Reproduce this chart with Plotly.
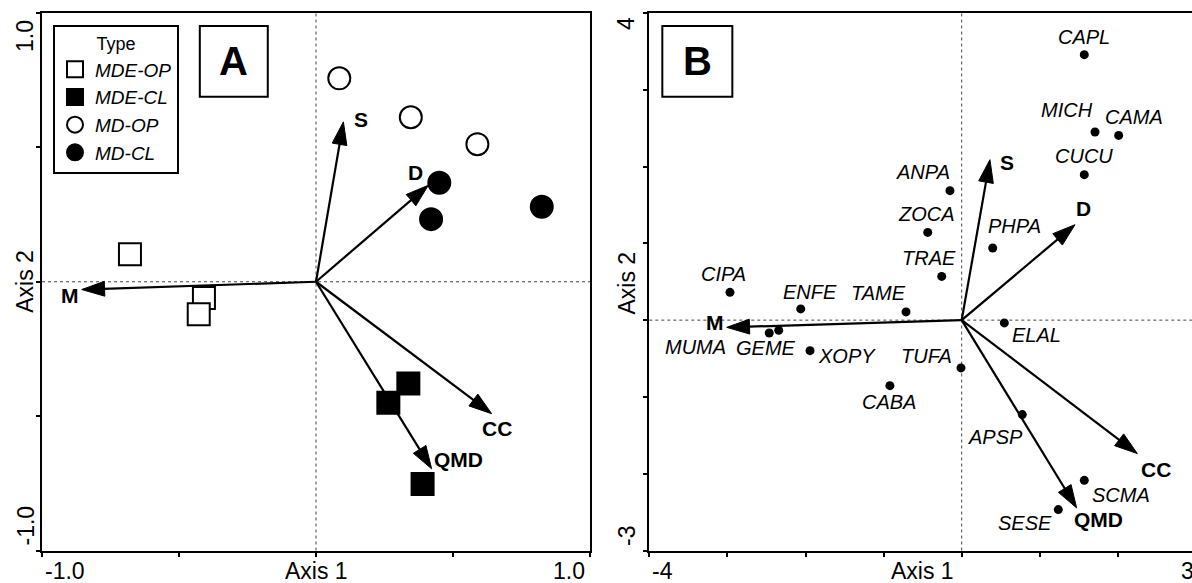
import plotly.graph_objects as go

# ---------------- Panel A data ----------------
mde_op_x = [-0.679, -0.409, -0.428]
mde_op_y = [0.102, -0.060, -0.121]
mde_cl_x = [0.337, 0.264, 0.389]
mde_cl_y = [-0.379, -0.450, -0.753]
md_op_x = [0.085, 0.346, 0.589]
md_op_y = [0.757, 0.612, 0.512]
md_cl_x = [0.450, 0.420, 0.824]
md_cl_y = [0.368, 0.233, 0.279]

vec_names = ["S", "D", "M", "CC", "QMD"]
vecA_x = [0.100, 0.410, -0.855, 0.641, 0.422]
vecA_y = [0.595, 0.359, -0.029, -0.491, -0.696]

# ---------------- Panel B data ----------------
species = ["CAPL", "MICH", "CAMA", "CUCU", "ANPA", "ZOCA", "PHPA", "TRAE", "TAME", "ELAL",
           "TUFA", "CABA", "APSP", "SCMA", "SESE", "CIPA", "ENFE", "MUMA", "GEME", "XOPY"]
spB_x = [1.570, 1.707, 2.010, 1.570, -0.150, -0.435, 0.397, -0.256, -0.713, 0.546,
         -0.009, -0.919, 0.776, 1.570, 1.237, -2.967, -2.061, -2.464, -2.343, -1.942]
spB_y = [3.457, 2.450, 2.406, 1.895, 1.686, 1.143, 0.940, 0.570, 0.107, -0.036,
         -0.622, -0.853, -1.230, -2.086, -2.467, 0.362, 0.146, -0.167, -0.133, -0.397]
vecB_x = [0.362, 1.451, -3.009, 2.249, 1.472]
vecB_y = [2.090, 1.243, -0.094, -1.738, -2.446]

A_ticks = [-1, -0.5, 0, 0.5, 1]
B_xticks = [-4, -3, -2, -1, 0, 1, 2, 3]
B_yticks = [-3, -2, -1, 0, 1, 2, 3, 4]

# ---------------- label placement (pixel offsets, layout only) ----------------
vecA_lab_off = {"S": (18, -2), "D": (-13, -13), "M": (-12, 6), "CC": (5, 15), "QMD": (27, -9)}
vecB_lab_off = {"S": (17, 3), "D": (8, -16), "M": (-12, -5), "CC": (19, 16), "QMD": (22, 12)}
spB_lab_off = {"CAPL": (0, -18), "MICH": (-28, -22), "CAMA": (15, -18), "CUCU": (0, -19),
               "ANPA": (-27, -19), "ZOCA": (-1, -18), "PHPA": (22, -22), "TRAE": (-13, -18),
               "TAME": (-28, -19), "ELAL": (32, 12), "TUFA": (-34, -12), "CABA": (-1, 16),
               "APSP": (-27, 22), "SCMA": (37, 15), "SESE": (-33, 13), "CIPA": (-6, -18),
               "ENFE": (9, -17), "MUMA": (-74, 14), "GEME": (-13, 18), "XOPY": (37, 5)}

W, H = 1192, 583
FONT = "Arial, Liberation Sans, sans-serif"


def xp(px):
    return px / W


def yp(py):
    return (H - py) / H


fig = go.Figure()

# Panel A points
marker_line = dict(color="black", width=2)
fig.add_trace(go.Scatter(x=mde_op_x, y=mde_op_y, mode="markers", name="MDE-OP",
                         marker=dict(symbol="square", size=22, color="white", line=marker_line),
                         xaxis="x", yaxis="y"))
fig.add_trace(go.Scatter(x=mde_cl_x, y=mde_cl_y, mode="markers", name="MDE-CL",
                         marker=dict(symbol="square", size=22, color="black", line=marker_line),
                         xaxis="x", yaxis="y"))
fig.add_trace(go.Scatter(x=md_op_x, y=md_op_y, mode="markers", name="MD-OP",
                         marker=dict(symbol="circle", size=22, color="white", line=marker_line),
                         xaxis="x", yaxis="y"))
fig.add_trace(go.Scatter(x=md_cl_x, y=md_cl_y, mode="markers", name="MD-CL",
                         marker=dict(symbol="circle", size=22, color="black", line=marker_line),
                         xaxis="x", yaxis="y"))


def add_vectors(vx, vy, xa, ya, offsets):
    for n, tx, ty in zip(vec_names, vx, vy):
        fig.add_trace(go.Scatter(x=[0, tx], y=[0, ty], mode="lines+markers", showlegend=False,
                                 line=dict(color="black", width=2.2),
                                 marker=dict(symbol="arrow", size=[0, 24], color="black",
                                             opacity=1, angleref="previous",
                                             line=dict(color="black", width=1)),
                                 xaxis=xa, yaxis=ya, hoverinfo="skip"))
        dx, dy = offsets[n]
        fig.add_annotation(x=tx, y=ty, xref=xa, yref=ya, text="<b>" + n + "</b>",
                           showarrow=False, xshift=dx, yshift=-dy,
                           xanchor="center", yanchor="middle",
                           font=dict(family=FONT, size=21, color="black"))


add_vectors(vecA_x, vecA_y, "x", "y", vecA_lab_off)

# Panel B species
fig.add_trace(go.Scatter(x=spB_x, y=spB_y, mode="markers", showlegend=False,
                         marker=dict(symbol="circle", size=9, color="black"),
                         xaxis="x2", yaxis="y2"))
for n, sx, sy in zip(species, spB_x, spB_y):
    dx, dy = spB_lab_off[n]
    fig.add_annotation(x=sx, y=sy, xref="x2", yref="y2", text=n, showarrow=False,
                       xshift=dx, yshift=-dy, xanchor="center", yanchor="middle",
                       font=dict(family=FONT, size=20, color="black", style="italic"))

add_vectors(vecB_x, vecB_y, "x2", "y2", vecB_lab_off)

# ---------------- axes ----------------
yd = [yp(550.5), yp(13)]
axis_common = dict(showgrid=False, zeroline=False, showline=True, linecolor="black",
                   linewidth=2, ticks="outside", ticklen=4, tickwidth=1.5, tickcolor="black",
                   showticklabels=False)
fig.update_layout(
    xaxis=dict(domain=[xp(42), xp(590)], range=[-1, 1], tickvals=A_ticks, mirror=True,
               anchor="y", **axis_common),
    yaxis=dict(domain=yd, range=[-1, 1], tickvals=A_ticks, mirror=True, anchor="x",
               **axis_common),
    xaxis2=dict(domain=[xp(649.3), 1.0], range=[-4, 2.949], tickvals=B_xticks, mirror=True,
                anchor="y2", **axis_common),
    yaxis2=dict(domain=yd, range=[-3, 4], tickvals=B_yticks, mirror=False, anchor="x2",
                **axis_common),
)

# dotted zero lines
dot = dict(color="#444", width=1, dash="dot")
for xa, ya in (("x", "y"), ("x2", "y2")):
    fig.add_shape(type="line", xref=xa, yref=ya + " domain", x0=0, x1=0, y0=0, y1=1,
                  line=dot, layer="below")
    fig.add_shape(type="line", xref=xa + " domain", yref=ya, x0=0, x1=1, y0=0, y1=0,
                  line=dot, layer="below")

# Panel letter boxes
for xa, ya, x0, x1, letter in (("x", "y", 0.288, 0.412, "A"), ("x2", "y2", 0.024, 0.153, "B")):
    fig.add_shape(type="rect", xref=xa + " domain", yref=ya + " domain", x0=x0, x1=x1,
                  y0=0.844, y1=0.976, line=dict(color="black", width=2), fillcolor="white")
    fig.add_annotation(xref=xa + " domain", yref=ya + " domain", x=(x0 + x1) / 2, y=0.91,
                       xanchor="center", yanchor="middle",
                       text="<b>" + letter + "</b>", showarrow=False,
                       font=dict(family=FONT, size=40, color="black"))

# tick labels as text
tf = dict(family=FONT, size=23, color="black")
ylab_x = 571
for txt, x, xref, anchor, shift in (("-1.0", -1, "x", "left", 1), ("Axis 1", 0, "x", "center", 0),
                                    ("1.0", 1, "x", "right", -3),
                                    ("-4", -4, "x2", "left", 1), ("Axis 1", xp(922), "paper", "center", 0),
                                    ("3", xp(1196), "paper", "right", 0)):
    fig.add_annotation(x=x, xref=xref, y=yp(ylab_x), yref="paper", text=txt, showarrow=False,
                       xanchor=anchor, yanchor="middle", xshift=shift, font=tf)

for txt, y, yref, anchor, shift, xpx in (("1.0", 1, "y", "top", -5, 25), ("Axis 2", 0, "y", "middle", 0, 25),
                                         ("-1.0", -1, "y", "bottom", 3, 25),
                                         ("4", 4, "y2", "top", -2, 626.5),
                                         ("Axis 2", yp(283), "paper", "middle", 0, 626.5),
                                         ("-3", -3, "y2", "bottom", 2, 626.5)):
    fig.add_annotation(x=xp(xpx), xref="paper", y=y, yref=yref, text=txt, showarrow=False,
                       textangle=-90, xanchor="center", yanchor=anchor, yshift=shift, font=tf)

fig.update_layout(
    width=W, height=H, margin=dict(l=0, r=0, t=0, b=0),
    paper_bgcolor="white", plot_bgcolor="white",
    showlegend=True,
    legend=dict(x=xp(53), y=yp(25), xanchor="left", yanchor="top", bgcolor="white",
                bordercolor="black", borderwidth=2,
                title=dict(text="Type", side="top center",
                           font=dict(family=FONT, size=18, color="black", style="normal")),
                font=dict(family=FONT, size=19, color="black", style="italic"),
                tracegroupgap=0, itemsizing="trace", itemwidth=30),
)

fig.write_html("out.html", config={"displayModeBar": False},
               post_script="document.body.style.margin='0px';document.body.style.overflow='hidden';")
